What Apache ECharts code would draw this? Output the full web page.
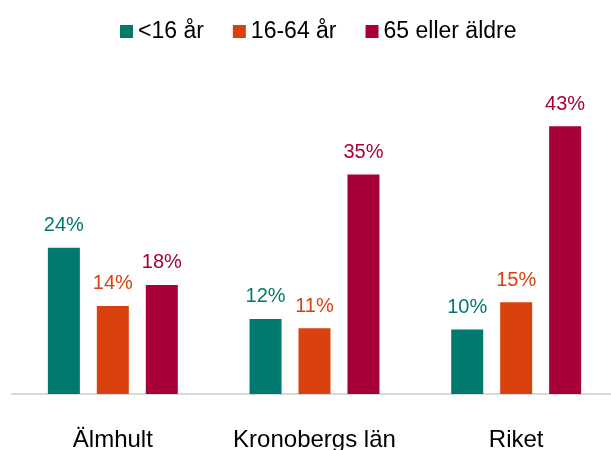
<!DOCTYPE html>
<html><head><meta charset="utf-8">
<script src="https://cdn.jsdelivr.net/npm/echarts@6/dist/echarts.min.js"></script>
<style>html,body{margin:0;padding:0;background:#fff}#c{width:611px;height:450px}</style>
</head><body><div id="c"></div>
<script>
const categories = ['Älmhult', 'Kronobergs län', 'Riket'];
const seriesNames = ['<16 år', '16-64 år', '65 eller äldre'];
const under16 = [23.6, 12.1, 10.4];
const age16to64 = [14.2, 10.6, 14.8];
const age65plus = [17.6, 35.4, 43.2];
const colors = ['#007A6E', '#D9420F', '#A8003B'];
const font = '"Liberation Sans", Arial, sans-serif';
const chart = echarts.init(document.getElementById('c'), null, {renderer: 'canvas'});
const mk = (name, data, i) => ({
  name, type: 'bar', data, barWidth: 32, barGap: '53%',
  itemStyle: {color: colors[i]},
  label: {show: true, position: 'top', distance: 12,
    formatter: p => Math.round(p.value) + '%',
    color: colors[i], fontSize: 20, fontFamily: font}
});
chart.setOption({
  animation: false,
  legend: {
    top: 15, left: 115, itemWidth: 13, itemHeight: 13, itemGap: 29,
    icon: 'rect',
    textStyle: {fontSize: 23, fontFamily: font, color: '#000'},
    data: seriesNames
  },
  grid: {left: 12, width: 605, top: 22, bottom: 56, containLabel: false, outerBoundsMode: 'none'},
  xAxis: {
    type: 'category', data: categories,
    axisLine: {lineStyle: {color: '#d9d9d9', width: 2}},
    axisTick: {show: false},
    axisLabel: {color: '#000', fontSize: 24, fontFamily: font, margin: 34, interval: 0, hideOverlap: false}
  },
  yAxis: {type: 'value', min: 0, max: 60, show: false, splitLine: {show: false}},
  series: [mk(seriesNames[0], under16, 0), mk(seriesNames[1], age16to64, 1), mk(seriesNames[2], age65plus, 2)]
});
</script></body></html>
